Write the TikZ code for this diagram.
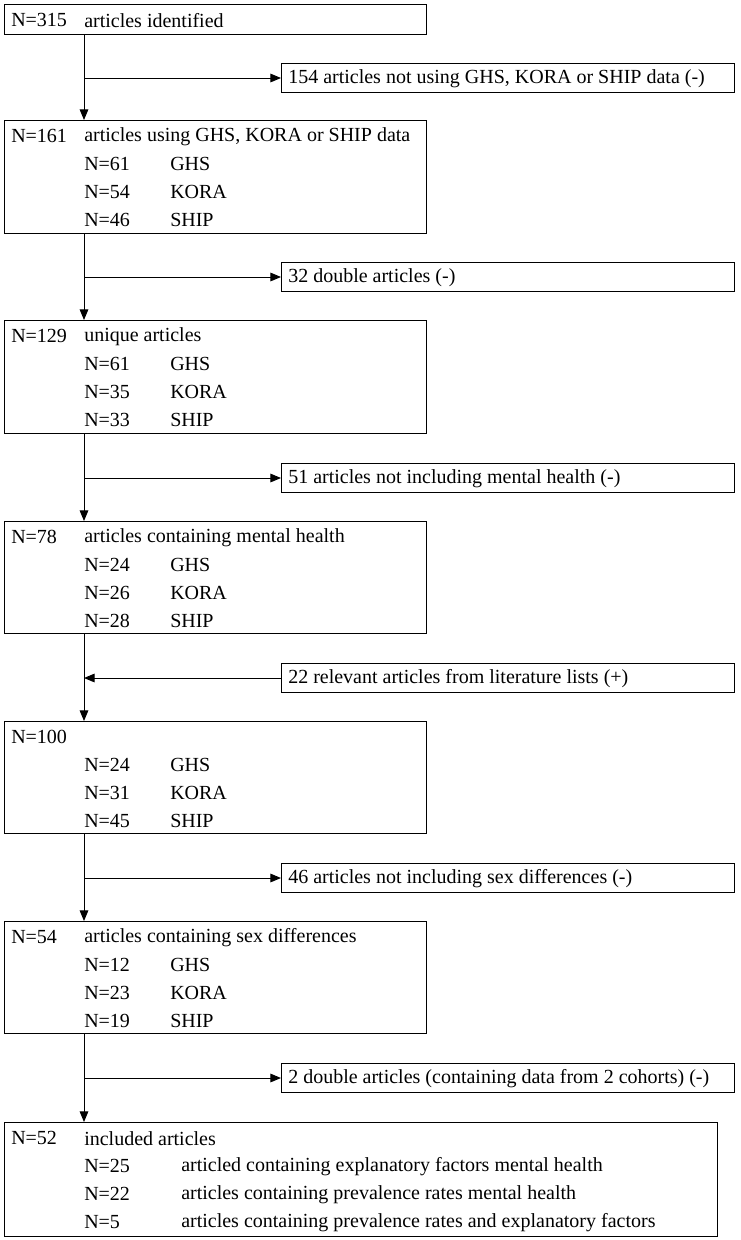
\documentclass[tikz,border=0pt]{standalone}
\usepackage{fontspec}
\setmainfont{Liberation Serif}
\usetikzlibrary{arrows.meta}
\begin{document}
\begin{tikzpicture}[x=0.75pt,y=-0.75pt,
  boxs/.style={draw,line width=0.75pt,inner sep=0pt,anchor=north west},
  txt/.style={anchor=west,inner sep=0pt,yshift=-1pt,font=\fontsize{15}{17}\selectfont},
  arr/.style={line width=0.75pt,-{Triangle[length=8pt,width=6.5pt]}}]
\useasboundingbox (0,0) rectangle (740,1240);
\coordinate (c) at (84,0);
% main boxes
\node[boxs,minimum width=422*0.75pt,minimum height=30*0.75pt] (b1) at (4,4) {};
\node[boxs,minimum width=422*0.75pt,minimum height=113*0.75pt] (b2) at (4,120) {};
\node[boxs,minimum width=422*0.75pt,minimum height=113*0.75pt] (b3) at (4,320) {};
\node[boxs,minimum width=422*0.75pt,minimum height=112*0.75pt] (b4) at (4,521) {};
\node[boxs,minimum width=422*0.75pt,minimum height=112*0.75pt] (b5) at (4,721) {};
\node[boxs,minimum width=422*0.75pt,minimum height=112*0.75pt] (b6) at (4,921) {};
\node[boxs,minimum width=713*0.75pt,minimum height=114*0.75pt] (b7) at (4,1122) {};
% side boxes
\foreach \n/\y in {1/63,2/262,3/463,4/663,5/863,6/1063}
  \node[boxs,minimum width=453*0.75pt,minimum height=29*0.75pt] (s\n) at (281,\y) {};
% side texts
\node[txt] (t1) at (288,77.5) {154 articles not using GHS, KORA or SHIP data (-)};
\node[txt] (t2) at (288,276.5) {32 double articles (-)};
\node[txt] (t3) at (288,477.5) {51 articles not including mental health (-)};
\node[txt] (t4) at (288,677.5) {22 relevant articles from literature lists (+)};
\node[txt] (t5) at (288,877.5) {46 articles not including sex differences (-)};
\node[txt] (t6) at (288,1077.5) {2 double articles (containing data from 2 cohorts) (-)};
% box texts
\node[txt] (a1) at (11,19) {N=315}; \node[txt] (a1b) at (84,19) {articles identified};
\node[txt] (a2) at (11,135) {N=161}; \node[txt] (a2b) at (84,135) {articles using GHS, KORA or SHIP data};
\node[txt] (a3) at (11,335) {N=129}; \node[txt] (a3b) at (84,335) {unique articles};
\node[txt] (a4) at (11,536) {N=78}; \node[txt] (a4b) at (84,536) {articles containing mental health};
\node[txt] (a5) at (11,736) {N=100};
\node[txt] (a6) at (11,936) {N=54}; \node[txt] (a6b) at (84,936) {articles containing sex differences};
\node[txt] (a7) at (11,1137) {N=52}; \node[txt] (a7b) at (84,1137) {included articles};
\foreach \y/\a/\b/\c/\k in {163/61/54/46/2,363/61/35/33/3,564/24/26/28/4,764/24/31/45/5,964/12/23/19/6}{
  \node[txt] (g\k) at (84,\y) {N=\a}; \node[txt] (gl\k) at (170,\y) {GHS};
  \node[txt] (k\k) at (84,\y+28) {N=\b}; \node[txt] (kl\k) at (170,\y+28) {KORA};
  \node[txt] (p\k) at (84,\y+56) {N=\c}; \node[txt] (pl\k) at (170,\y+56) {SHIP};
}
\node[txt] (r1) at (84,1165) {N=25}; \node[txt] (r1b) at (181,1165) {articled containing explanatory factors mental health};
\node[txt] (r2) at (84,1193) {N=22}; \node[txt] (r2b) at (181,1193) {articles containing prevalence rates mental health};
\node[txt] (r3) at (84,1221) {N=5}; \node[txt] (r3b) at (181,1221) {articles containing prevalence rates and explanatory factors};
% connectors
\draw[arr] (b1.south -| c) -- (b2.north -| c);
\draw[arr] (b2.south -| c) -- (b3.north -| c);
\draw[arr] (b3.south -| c) -- (b4.north -| c);
\draw[arr] (b4.south -| c) -- (b5.north -| c);
\draw[arr] (b5.south -| c) -- (b6.north -| c);
\draw[arr] (b6.south -| c) -- (b7.north -| c);
\foreach \n in {1,2,3,5,6} \draw[arr] (s\n.west -| c) -- (s\n.west);
\draw[arr] (s4.west) -- (s4.west -| c);
\end{tikzpicture}
\end{document}
